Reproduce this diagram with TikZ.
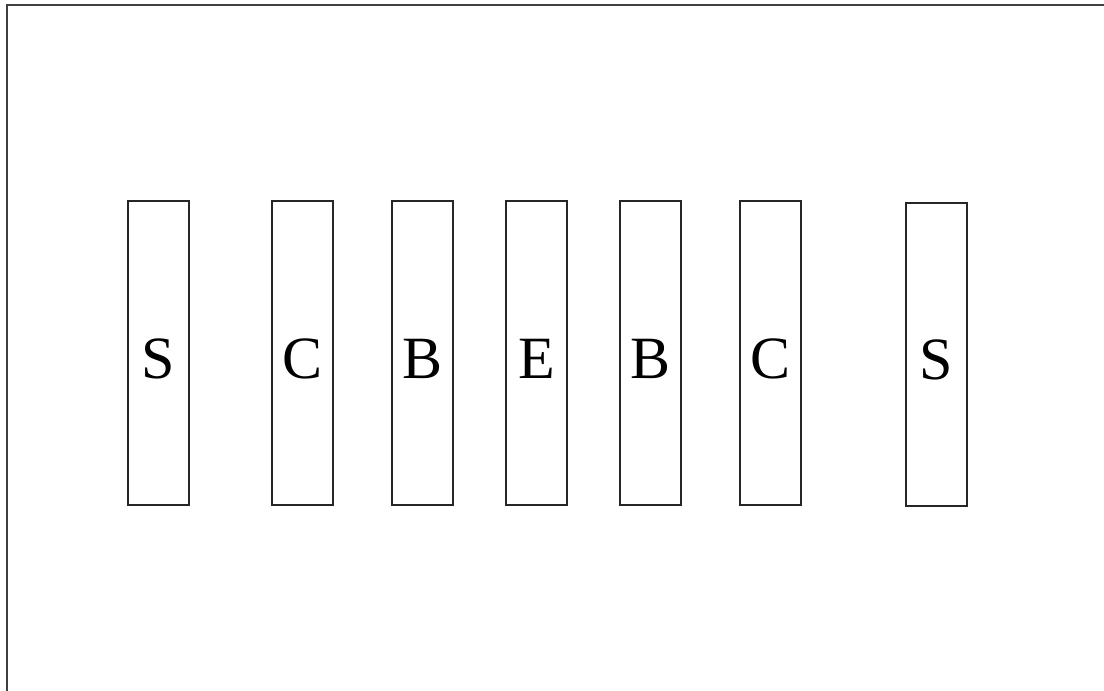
\documentclass[tikz,border=0pt]{standalone}
\usepackage{fontspec}
\setmainfont{Liberation Serif}
\begin{document}
\begin{tikzpicture}[x=1pt,y=-1pt,
  layer/.style={draw=black!85, line width=1.7pt, minimum width=61pt, minimum height=304pt, inner sep=0pt, anchor=north west},
  lbl/.style={font=\fontsize{60}{60}\selectfont, inner sep=0pt}]
\useasboundingbox (0,0) rectangle (1104,691);
\draw[black!75, line width=2.2pt] (7,691) -- (7,5) -- (1104,5);
\node[layer] (b1) at (127,200) {};
\node[layer] (b2) at (271,200) {};
\node[layer] (b3) at (391,200) {};
\node[layer] (b4) at (505,200) {};
\node[layer] (b5) at (619,200) {};
\node[layer] (b6) at (739,200) {};
\node[layer, minimum height=303pt] (b7) at (905,202) {};
\node[lbl] (l1) at ([yshift=-6pt]b1.center) {S};
\node[lbl] (l2) at ([yshift=-6pt]b2.center) {C};
\node[lbl] (l3) at ([yshift=-6pt]b3.center) {B};
\node[lbl] (l4) at ([yshift=-6pt]b4.center) {E};
\node[lbl] (l5) at ([yshift=-6pt]b5.center) {B};
\node[lbl] (l6) at ([yshift=-6pt]b6.center) {C};
\node[lbl] (l7) at ([yshift=-6pt]b7.center) {S};
\end{tikzpicture}
\end{document}
